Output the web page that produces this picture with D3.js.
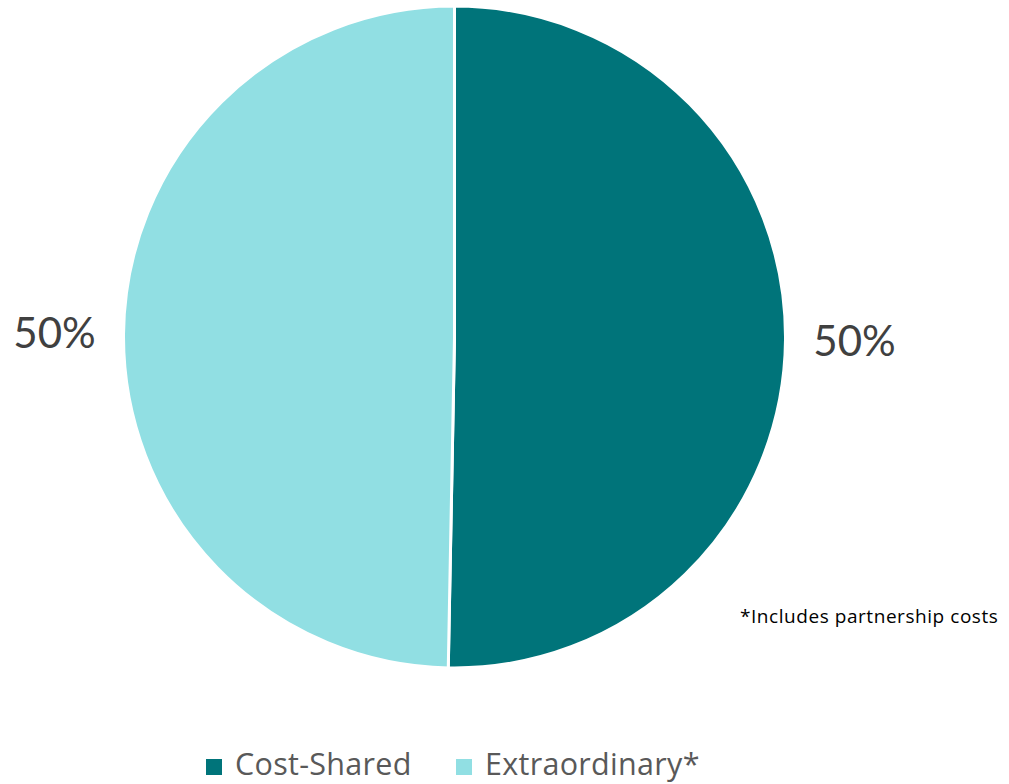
<!DOCTYPE html>
<html>
<head>
<meta charset="utf-8">
<script src="https://cdn.jsdelivr.net/npm/d3@7"></script>
<style>
  html, body { margin: 0; padding: 0; background: #ffffff; }
  svg { display: block; font-family: "Open Sans", Lato, sans-serif; }
</style>
</head>
<body>
<svg id="chart" width="1009" height="784"></svg>
<script>
// Spending split by category
const categories = ["Cost-Shared", "Extraordinary*"];
const shares = [50.3, 49.7];
const shareLabels = ["50%", "50%"];
const colors = ["#00747A", "#91DFE3"];
const footnote = "*Includes partnership costs";

const svg = d3.select("#chart");
const cx = 454.5, cy = 337, radius = 331;

const pie = d3.pie().sort(null).value(d => d.value);
const slices = pie(categories.map((c, i) => ({ name: c, value: shares[i], label: shareLabels[i] })));

const arc = d3.arc().innerRadius(0).outerRadius(radius);
const labelArc = d3.arc().innerRadius(400).outerRadius(400);

const g = svg.append("g").attr("transform", `translate(${cx},${cy})`);

g.selectAll("path.slice")
  .data(slices)
  .join("path")
  .attr("class", "slice")
  .attr("d", arc)
  .attr("fill", (d, i) => colors[i])
  .attr("stroke", "#ffffff")
  .attr("stroke-width", 3)
  .attr("stroke-linejoin", "round");

g.selectAll("text.value")
  .data(slices)
  .join("text")
  .attr("class", "value")
  .attr("transform", d => `translate(${labelArc.centroid(d)})`)
  .attr("text-anchor", "middle")
  .attr("dy", "0.36em")
  .attr("font-family", "Lato, sans-serif")
  .attr("font-size", 42)
  .attr("fill", "#404040")
  .text(d => d.data.label);

// Footnote
svg.append("text")
  .attr("x", 740)
  .attr("y", 623)
  .attr("font-size", 19)
  .attr("letter-spacing", 0.55)
  .attr("fill", "#000000")
  .text(footnote);

// Legend
const legendX = [206, 456];
const legend = svg.append("g");
categories.forEach((c, i) => {
  legend.append("rect")
    .attr("x", legendX[i])
    .attr("y", 759)
    .attr("width", 16)
    .attr("height", 16)
    .attr("fill", colors[i]);
  legend.append("text")
    .attr("x", legendX[i] + 29)
    .attr("y", 775)
    .attr("font-size", 30.5)
    .attr("letter-spacing", 0.3)
    .attr("fill", "#595959")
    .text(c);
});
</script>
</body>
</html>
